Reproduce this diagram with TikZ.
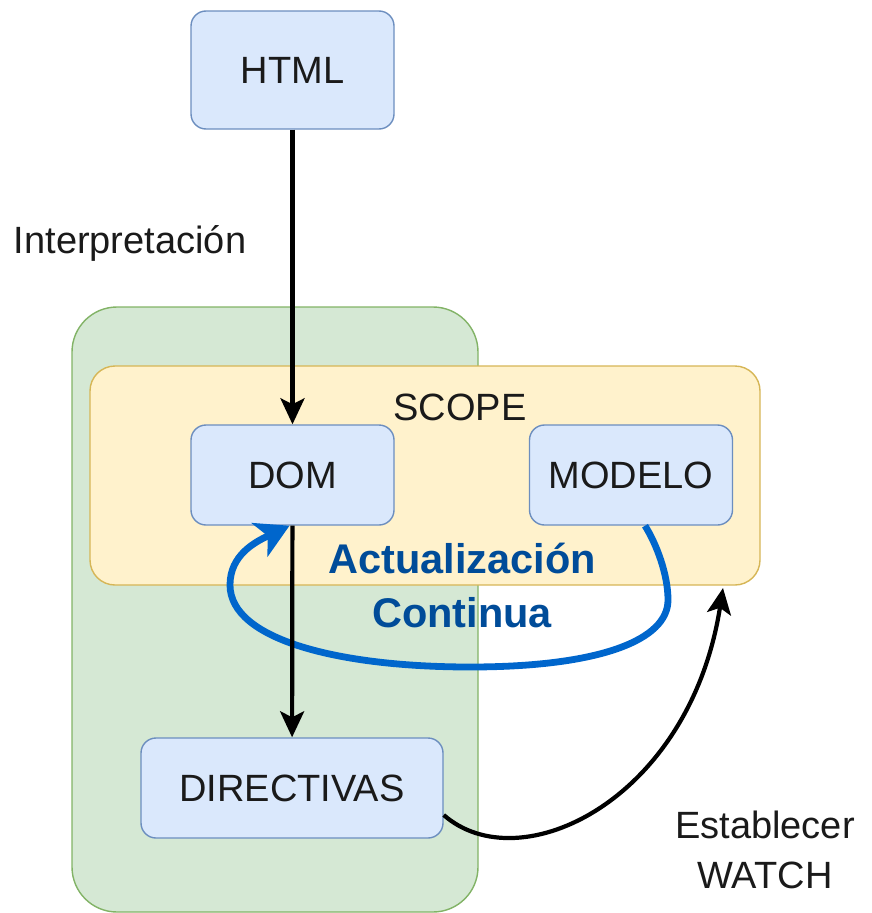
\documentclass[tikz,border=0pt]{standalone}
\usepackage{fontspec}
\setmainfont{Liberation Sans}
\usetikzlibrary{arrows.meta}

\definecolor{boxfill}{HTML}{DAE8FC}
\definecolor{boxline}{HTML}{6C8EBF}
\definecolor{greenfill}{HTML}{D5E8D4}
\definecolor{greenline}{HTML}{82B366}
\definecolor{scopefill}{HTML}{FFF2CC}
\definecolor{scopeline}{HTML}{D6B656}
\definecolor{loopblue}{HTML}{0066CC}
\definecolor{looptext}{HTML}{004C99}
\definecolor{ink}{HTML}{1A1A1A}

\tikzset{
  txt/.style={font=\fontsize{38}{44}\selectfont, text=ink},
  box/.style={txt, draw=boxline, fill=boxfill, line width=1.4pt,
    rounded corners=15pt, minimum width=203pt, minimum height=100pt},
  region/.style={line width=1.4pt},
  lbl/.style={txt, inner sep=0pt, anchor=base},
  boldlbl/.style={font=\fontsize{41.5}{48}\selectfont\bfseries,
    text=looptext, inner sep=0pt, anchor=base},
  arr/.style={draw=black, line width=4.2pt,
    -{Stealth[length=26pt, width=24pt, inset=6pt]}},
  looparr/.style={draw=loopblue, line width=6.8pt,
    -{Stealth[length=33pt, width=37pt, inset=9pt]}}
}

\begin{document}
\begin{tikzpicture}[x=1pt, y=-1pt]
\useasboundingbox (0,0) rectangle (871,913);

% outer green region and the yellow scope
\node[region, draw=greenline, fill=greenfill, rounded corners=45pt,
  minimum width=406pt, minimum height=605pt] (outer) at (275,609.5) {};
\node[region, draw=scopeline, fill=scopefill, rounded corners=25pt,
  minimum width=670pt, minimum height=219pt] (scope) at (425,475.5) {};
\node[lbl] (scopelbl) at (460,420) {SCOPE};

% blocks
\node[box, minimum height=118pt] (html) at (292.5,70) {HTML};
\node[box] (dom) at (292.5,475) {DOM};
\node[box] (modelo) at (631,475) {MODELO};
\node[box, minimum width=302pt] (dir) at (292,788) {DIRECTIVAS};

% continuous update loop from the model back to the DOM
\draw[looparr] ([xshift=14pt]modelo.south)
  .. controls (657,545) and (668,575) .. (668,600)
  .. controls (668,640) and (600,667) .. (470,667)
  .. controls (340,667) and (230,640) .. (230,585)
  .. controls (230,555) and (255,542) .. ([xshift=-3pt]dom.south);
\node[boldlbl] (act) at (462,573) {Actualización};
\node[boldlbl] (cont) at (462,627) {Continua};

% main flow
\draw[arr] (html) -- (dom);
\draw[arr] (dom) -- (dir);
\node[lbl] (interp) at (130,253) {Interpretación};

% watch registration
\coordinate (watch) at (723,588);
\draw[arr] ([yshift=-27pt]dir.east)
  .. controls (520,882) and (690,800) .. (watch);
\node[lbl] (estab) at (765,838) {Establecer};
\node[lbl] (watchlbl) at (765,888) {WATCH};
\end{tikzpicture}
\end{document}
